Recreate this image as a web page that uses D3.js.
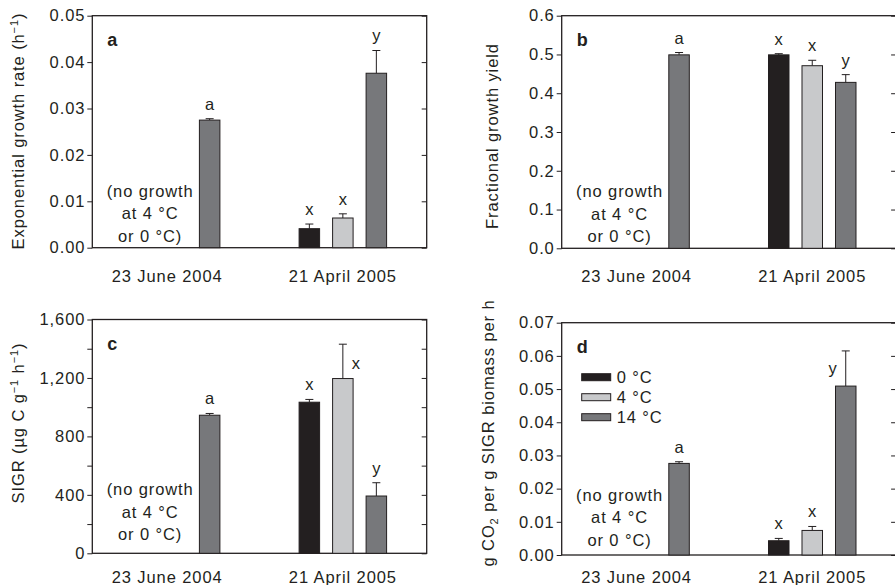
<!DOCTYPE html>
<html>
<head>
<meta charset="utf-8">
<script src="https://cdn.jsdelivr.net/npm/d3@7"></script>
<style>
  body { margin: 0; background: #fff; }
  svg text { font-family: "Liberation Sans", Arial, Helvetica, sans-serif; fill: #231f20; }
</style>
</head>
<body>
<div id="chart"></div>
<script>
// categories
const dates = ["23 June 2004", "21 April 2005"];
const temps = ["0 °C", "4 °C", "14 °C"];

// a: exponential growth rate (h-1), [date][temp]
const growthRate    = [[null, null, 0.0275], [0.0041, 0.0064, 0.0376]];
const growthRateErr = [[null, null, 0.0003], [0.0010, 0.0009, 0.0049]];
const growthRateLetters = [[null, null, "a"], ["x", "x", "y"]];
const growthRateTicks = [0, 0.01, 0.02, 0.03, 0.04, 0.05];

// b: fractional growth yield
const growthYield    = [[null, null, 0.499], [0.499, 0.471, 0.428]];
const growthYieldErr = [[null, null, 0.006], [0.003, 0.014, 0.020]];
const growthYieldLetters = [[null, null, "a"], ["x", "x", "y"]];
const growthYieldTicks = [0, 0.1, 0.2, 0.3, 0.4, 0.5, 0.6];

// c: SIGR (ug C g-1 h-1)
const sigr    = [[null, null, 945], [1034, 1196, 392]];
const sigrErr = [[null, null, 12], [19, 235, 91]];
const sigrLetters = [[null, null, "a"], ["x", "x", "y"]];
const sigrTicks = [0, 400, 800, 1200, 1600];
const sigrMinorTicks = [200, 600, 1000, 1400];

// d: g CO2 per g SIGR biomass per h
const co2    = [[null, null, 0.0276], [0.0043, 0.0074, 0.0509]];
const co2Err = [[null, null, 0.0005], [0.0007, 0.0012, 0.0106]];
const co2Letters = [[null, null, "a"], ["x", "x", "y"]];
const co2Ticks = [0, 0.01, 0.02, 0.03, 0.04, 0.05, 0.06, 0.07];

const noGrowthNote = ["(no growth", "at 4 °C", "or 0 °C)"];

const colors = ["#231f20", "#c8c9cb", "#77787b"];
const ink = "#231f20";
const fontSize = 16.5;
const spacing = "0.9px";

const svg = d3.select("#chart").append("svg")
    .attr("width", 895)
    .attr("height", 585);

const panelW = 334.4;

// mise en page des 4 panneaux
const panels = [
    { key: "a", left: 92.3, top: 15.7, bottom: 247.7, values: growthRate, errs: growthRateErr, letters: growthRateLetters,
      ticks: growthRateTicks, fmt: d3.format(".2f"), noteBottom: 6, catDy: 34, titleX: 24, titleY: 131,
      title: [["Exponential growth rate (h"], ["−1", "sup"], [")"]] },
    { key: "b", left: 561.7, top: 15.7, bottom: 248.3, values: growthYield, errs: growthYieldErr, letters: growthYieldLetters,
      ticks: growthYieldTicks, fmt: d3.format(".1f"), noteBottom: 6, catDy: 34, titleX: 498, titleY: 136,
      title: [["Fractional growth yield"]] },
    { key: "c", left: 92.3, top: 319.5, bottom: 553.3, values: sigr, errs: sigrErr, letters: sigrLetters,
      ticks: sigrTicks, minor: sigrMinorTicks, fmt: d3.format(","), noteBottom: 13, catDy: 29.5, titleX: 24, titleY: 423,
      title: [["SIGR (µg C g"], ["−1", "sup"], [" h"], ["−1", "sup"], [")"]],
      beside: { d: 1, t: 1, dx: 13, dy: 25 } },
    { key: "d", left: 561.7, top: 322.7, bottom: 555, values: co2, errs: co2Err, letters: co2Letters,
      ticks: co2Ticks, fmt: d3.format(".2f"), noteBottom: 9, catDy: 28.5, titleX: 494, titleY: 433,
      title: [["g CO"], ["2", "sub"], [" per g SIGR biomass per h"]],
      beside: { d: 1, t: 2, dx: -13, dy: 23 }, legend: true }
];

panels.forEach(p => {
    const h = p.bottom - p.top;
    const g = svg.append("g").attr("transform", `translate(${p.left},${p.top})`);

    const y = d3.scaleLinear()
        .domain(d3.extent(p.ticks))
        .range([h, 0]);

    const x = d3.scalePoint()
        .domain(dates)
        .range([0, panelW])
        .padding(0.503);

    const xt = d3.scaleBand()
        .domain(temps)
        .range([-43.75, 43.75])
        .paddingInner(0.388);

    // axe gauche (ticks vers l'extérieur)
    const yAxis = g.append("g")
        .call(d3.axisLeft(y).tickValues(p.ticks).tickSize(5).tickPadding(2).tickFormat(p.fmt));
    yAxis.select(".domain").remove();
    yAxis.selectAll("line").attr("stroke", ink);
    yAxis.selectAll("text")
        .style("font-size", fontSize + "px")
        .style("letter-spacing", spacing)
        .attr("fill", ink);

    const allTicks = p.minor ? p.ticks.concat(p.minor) : p.ticks;
    if (p.minor) {
        const m = g.append("g")
            .call(d3.axisLeft(y).tickValues(p.minor).tickSize(5).tickFormat(""));
        m.select(".domain").remove();
        m.selectAll("line").attr("stroke", ink);
    }

    // ticks à droite vers l'intérieur
    const r = g.append("g")
        .attr("transform", `translate(${panelW},0)`)
        .call(d3.axisLeft(y).tickValues(allTicks).tickSize(5).tickFormat(""));
    r.select(".domain").remove();
    r.selectAll("line").attr("stroke", ink);

    // cadre
    g.append("rect")
        .attr("x", 0).attr("y", 0)
        .attr("width", panelW).attr("height", h)
        .attr("fill", "none")
        .attr("stroke", ink)
        .attr("stroke-width", 1.3);

    // barres
    const rows = [];
    dates.forEach((dt, di) => temps.forEach((t, ti) => {
        const v = p.values[di][ti];
        if (v !== null) rows.push({ di, ti, dt, t, v, e: p.errs[di][ti], l: p.letters[di][ti] });
    }));

    const cx = d => x(d.dt) + xt(d.t) + xt.bandwidth() / 2;

    // barres d'erreur
    g.selectAll(".err")
        .data(rows)
        .enter().append("path")
        .attr("d", d => `M${cx(d)},${y(d.v)}V${y(d.v + d.e)}M${cx(d) - 4},${y(d.v + d.e)}H${cx(d) + 4}`)
        .attr("stroke", ink)
        .attr("stroke-width", 1)
        .attr("fill", "none");

    g.selectAll(".bar")
        .data(rows)
        .enter().append("rect")
        .attr("x", d => x(d.dt) + xt(d.t))
        .attr("y", d => y(d.v))
        .attr("width", xt.bandwidth())
        .attr("height", d => h - y(d.v))
        .attr("fill", d => colors[d.ti])
        .attr("stroke", ink)
        .attr("stroke-width", 1);

    // lettres de signification
    const isBeside = d => p.beside && p.beside.d === d.di && p.beside.t === d.ti;
    g.selectAll(".sig")
        .data(rows)
        .enter().append("text")
        .attr("x", d => isBeside(d) ? cx(d) + p.beside.dx : cx(d))
        .attr("y", d => isBeside(d) ? y(d.v + d.e) + p.beside.dy : y(d.v + d.e) - 9)
        .attr("text-anchor", "middle")
        .style("font-size", fontSize + "px")
        .text(d => d.l);

    // catégories
    g.selectAll(".cat")
        .data(dates)
        .enter().append("text")
        .attr("x", (d, i) => x(d) + (i === 0 ? -9 : 0))
        .attr("y", h + p.catDy)
        .attr("text-anchor", "middle")
        .style("font-size", fontSize + "px")
        .style("letter-spacing", spacing)
        .text(d => d);

    // note (pas de croissance)
    g.selectAll(".note")
        .data(noGrowthNote)
        .enter().append("text")
        .attr("x", x(dates[0]) - 26)
        .attr("y", (d, i) => h - p.noteBottom - (noGrowthNote.length - 1 - i) * 22.5)
        .attr("text-anchor", "middle")
        .style("font-size", fontSize + "px")
        .style("letter-spacing", spacing)
        .text(d => d);

    // lettre du panneau
    g.append("text")
        .attr("x", 15)
        .attr("y", 30)
        .style("font-size", "18px")
        .style("font-weight", "bold")
        .text(p.key);

    // titre de l'axe y
    const title = svg.append("text")
        .attr("transform", `translate(${p.titleX},${p.titleY}) rotate(-90)`)
        .attr("text-anchor", "middle")
        .style("font-size", fontSize + "px")
        .style("letter-spacing", spacing);
    let shift = 0;
    p.title.forEach(([s, kind]) => {
        const ts = title.append("tspan").text(s);
        const target = kind === "sup" ? -6 : kind === "sub" ? 4 : 0;
        if (target !== shift) ts.attr("dy", target - shift);
        if (kind) ts.style("font-size", "11px");
        shift = target;
    });

    // légende
    if (p.legend) {
        const lg = g.append("g").attr("transform", "translate(20,54.5)");
        const ly = d3.scalePoint().domain(temps).range([0, 40]);
        lg.selectAll("rect")
            .data(temps)
            .enter().append("rect")
            .attr("x", 0)
            .attr("y", d => ly(d) - 3.5)
            .attr("width", 29)
            .attr("height", 7)
            .attr("fill", (d, i) => colors[i])
            .attr("stroke", ink)
            .attr("stroke-width", 1);
        lg.selectAll("text")
            .data(temps)
            .enter().append("text")
            .attr("x", 35)
            .attr("y", d => ly(d) + 6)
            .style("font-size", fontSize + "px")
            .style("letter-spacing", spacing)
            .text(d => d);
    }
});
</script>
</body>
</html>
